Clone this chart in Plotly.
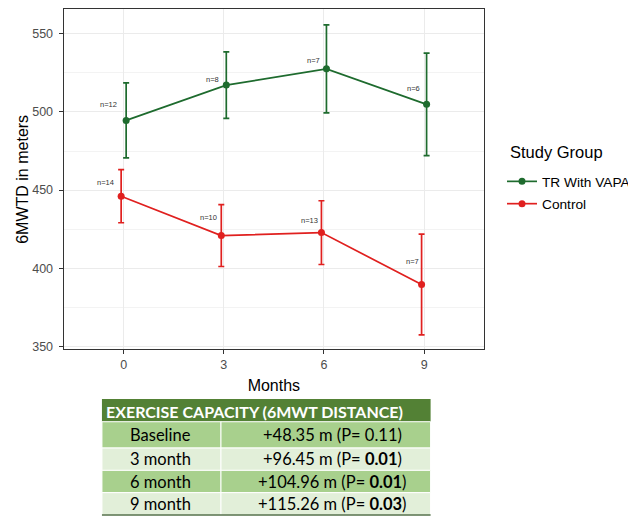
import plotly.graph_objects as go

# ---------------- data ----------------
months = ["0", "3", "6", "9"]
group_names = ["TR With VAPA", "Control"]
legend_title = "Study Group"
x_title = "Months"
y_title = "6MWTD in meters"

vapa_mean = [494.6, 517.2, 527.6, 504.9]
vapa_err = [24.0, 21.3, 28.2, 32.8]
vapa_n = [12, 8, 7, 6]

ctrl_mean = [446.1, 420.9, 422.8, 389.6]
ctrl_err = [17.0, 19.8, 20.4, 32.2]
ctrl_n = [14, 10, 13, 7]

table_title = "EXERCISE CAPACITY (6MWT DISTANCE)"
table_period = ["Baseline", "3 month", "6 month", "9 month"]
table_diff = ["+48.35 m", "+96.45 m", "+104.96 m", "+115.26 m"]
table_p = ["0.11", "0.01", "0.01", "0.03"]
table_p_bold = [False, True, True, True]

# ---------------- style / layout ----------------
OFF = 8                      # page body margin
W, H = 636 - OFF, 520 - OFF  # figure size


def fx(px):
    return (px - OFF) / W


def fy(py):
    return 1 - (py - OFF) / H


GREEN = "#1E6B2E"
RED = "#E0201F"
DODGE = 0.025
# pixel offsets of the n= labels relative to their points (layout only)
vapa_label_shift = [(-18, 16), (-14, 6), (-13, 8), (-13, 16)]
ctrl_label_shift = [(-16, 14), (-13, 18), (-12, 12), (-9, 23)]

pos = list(range(len(months)))

fig = go.Figure()

for name, mean, err, color, sign in [
    (group_names[0], vapa_mean, vapa_err, GREEN, 1),
    (group_names[1], ctrl_mean, ctrl_err, RED, -1),
]:
    fig.add_trace(go.Scatter(
        x=[p + sign * DODGE for p in pos], y=mean, name=name,
        legendgroup=name,
        mode="lines+markers",
        line=dict(color=color, width=1.7),
        marker=dict(color=color, size=7),
        error_y=dict(type="data", array=err, visible=True,
                     color=color, thickness=1.7, width=3),
    ))

annotations = []
for mean, ns, shifts, sign in [
    (vapa_mean, vapa_n, vapa_label_shift, 1),
    (ctrl_mean, ctrl_n, ctrl_label_shift, -1),
]:
    for p, m, n, (dx, dy) in zip(pos, mean, ns, shifts):
        annotations.append(dict(
            x=p + sign * DODGE, y=m, xref="x", yref="y", text=f"n={n}",
            showarrow=False, xshift=dx, yshift=dy,
            font=dict(family="Arial", size=7.5, color="#333333"),
        ))

annotations.append(dict(
    x=fx(512), y=fy(153), xref="paper", yref="paper", text=legend_title,
    xanchor="left", yanchor="middle", showarrow=False,
    font=dict(family="Arial", size=16.5, color="black"),
))
annotations.append(dict(
    x=fx(22.5), y=fy(180.75), xref="paper", yref="paper", text=y_title,
    textangle=-90, xanchor="center", yanchor="middle", showarrow=False,
    font=dict(family="Arial", size=16, color="black"),
))

# ---------------- table (shapes + text) ----------------
LIGHT = "#E2EFD9"
MID = "#A8D08D"
DARK = "#538135"
T_LEFT, T_MID, T_RIGHT = 102.7, 222.7, 434
HEAD_TOP, HEAD_BOT = 402, 425
row_edges = [425, 451.5, 474, 496.5, 519]
row_fill = [MID, LIGHT, MID, LIGHT]
COL1_TEXT_X, COL2_TEXT_X = 162, 335.5

shapes = [dict(type="rect", xref="paper", yref="paper",
               x0=fx(T_LEFT), x1=fx(T_RIGHT), y0=fy(HEAD_BOT), y1=fy(HEAD_TOP),
               fillcolor=DARK, line=dict(width=0), layer="above")]
annotations.append(dict(
    x=fx(105), y=fy(414.5), xref="paper", yref="paper",
    text=f"<b>{table_title}</b>", xanchor="left", yanchor="middle",
    showarrow=False, font=dict(family="Lato", size=16, color="white"),
))

col2 = [f"{d} (P= {'<b>' + p + '</b>' if b else p})"
        for d, p, b in zip(table_diff, table_p, table_p_bold)]

for i, (period, txt) in enumerate(zip(table_period, col2)):
    top, bot = row_edges[i], row_edges[i + 1]
    for xa, xb in [(T_LEFT, T_MID), (T_MID, T_RIGHT)]:
        shapes.append(dict(type="rect", xref="paper", yref="paper",
                           x0=fx(xa), x1=fx(xb), y0=fy(bot), y1=fy(top),
                           fillcolor=row_fill[i], line=dict(color="white", width=1),
                           layer="above"))
    cy = (top + bot) / 2
    for tx, t in [(COL1_TEXT_X, period), (COL2_TEXT_X, txt)]:
        annotations.append(dict(
            x=fx(tx), y=fy(cy), xref="paper", yref="paper", text=t,
            xanchor="center", yanchor="middle", showarrow=False,
            font=dict(family="Lato", size=16.5, color="black"),
        ))

shapes.append(dict(type="line", xref="paper", yref="paper",
                   x0=fx(T_LEFT), x1=fx(T_RIGHT), y0=fy(row_edges[-1]), y1=fy(row_edges[-1]),
                   line=dict(color="#55704A", width=1.5), layer="above"))

fig.update_layout(
    width=W, height=H,
    margin=dict(l=0, r=0, t=0, b=0),
    paper_bgcolor="white", plot_bgcolor="white",
    font=dict(family="Arial", color="black"),
    showlegend=True,
    legend=dict(
        font=dict(size=13.7, color="black"),
        x=fx(506), xanchor="left", y=fy(167.2), yanchor="top",
        tracegroupgap=1.5,
        bgcolor="rgba(0,0,0,0)",
    ),
    annotations=annotations,
    shapes=shapes,
    xaxis=dict(
        domain=[fx(64), fx(488)], range=[-0.6, 3.6],
        tickmode="array", tickvals=pos, ticktext=months,
        showgrid=True, gridcolor="#EBEBEB", gridwidth=1, zeroline=False,
        showline=True, mirror=True, linecolor="#333333", linewidth=1,
        ticks="outside", ticklen=4, tickcolor="#333333", tickwidth=1,
        tickfont=dict(size=12.5, color="#4D4D4D"),
        title=dict(text=x_title, font=dict(size=16, color="black"), standoff=8),
    ),
    yaxis=dict(
        domain=[fy(352), fy(9.5)], range=[348.1, 565.6],
        tickmode="linear", tick0=350, dtick=50,
        showgrid=True, gridcolor="#EBEBEB", gridwidth=1, zeroline=False,
        minor=dict(dtick=25, tick0=350, showgrid=True, gridcolor="#F3F3F3", gridwidth=0.8),
        showline=True, mirror=True, linecolor="#333333", linewidth=1,
        ticks="outside", ticklen=4, tickcolor="#333333", tickwidth=1,
        ticklabelstandoff=3,
        tickfont=dict(size=12.5, color="#4D4D4D"),
    ),
)

fig.write_html("out.html")
